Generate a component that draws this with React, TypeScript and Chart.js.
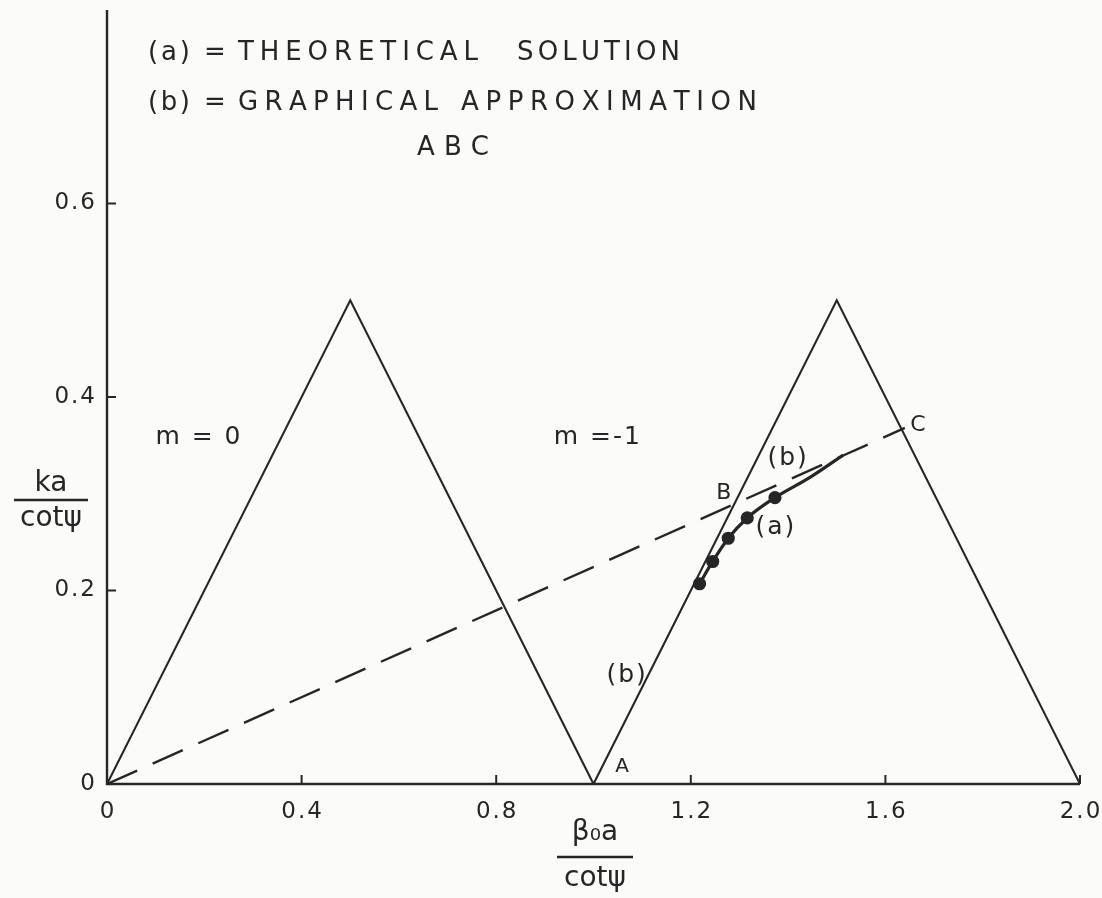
import { useEffect, useRef } from "react";
import { Chart, registerables } from "chart.js";

Chart.register(...registerables);

// Axis ticks
const xTicks = [0, 0.4, 0.8, 1.2, 1.6, 2.0];
const xTickLabels = ["0", "0.4", "0.8", "1.2", "1.6", "2.0"];
const yTicks = [0, 0.2, 0.4, 0.6];
const yTickLabels = ["0", "0.2", "0.4", "0.6"];

// Mode boundaries for m = 0 and m = -1
const boundaryX = [0, 0.5, 1.0, 1.5, 2.0];
const boundaryY = [0, 0.5, 0, 0.5, 0];

// Graphical approximation line through O, B and C
const approxX = [0, 1.64];
const approxY = [0, 0.368];

// Theoretical solution (a)
const theoryX = [1.218, 1.245, 1.277, 1.316, 1.373, 1.445, 1.513];
const theoryY = [0.207, 0.23, 0.254, 0.275, 0.296, 0.317, 0.34];
const theoryMarked = [true, true, true, true, true, false, false];

// In-plot annotations (data coordinates)
const noteText = ["m = 0", "m =-1", "(b)", "A", "B", "(a)", "(b)", "C"];
const noteX = [0.187, 1.007, 1.067, 1.059, 1.268, 1.373, 1.398, 1.667];
const noteY = [0.358, 0.358, 0.112, 0.0176, 0.3, 0.265, 0.336, 0.371];
const noteSize = [25, 25, 25, 20, 22, 25, 25, 22];

const INK = "#262626";
const PAPER = "#fbfbf9";
const FONT = '"DejaVu Sans", sans-serif';

const toPoints = (xs: number[], ys: number[]) => xs.map((x, i) => ({ x, y: ys[i] }));

// Draws text with its characters spread to span [x0, x1]
function spread(ctx: CanvasRenderingContext2D, text: string, x0: number, x1: number, y: number) {
  const chars = Array.from(text);
  const widths = chars.map((c) => ctx.measureText(c).width);
  const total = widths.reduce((a, b) => a + b, 0);
  const gap = chars.length > 1 ? (x1 - x0 - total) / (chars.length - 1) : 0;
  let x = x0;
  ctx.textAlign = "left";
  chars.forEach((c, i) => {
    ctx.fillText(c, x, y);
    x += widths[i] + gap;
  });
}

function spacedWidth(ctx: CanvasRenderingContext2D, text: string, gap: number) {
  const chars = Array.from(text);
  return chars.reduce((a, c) => a + ctx.measureText(c).width, 0) + gap * (chars.length - 1);
}

function spacedCenter(ctx: CanvasRenderingContext2D, text: string, cx: number, y: number, gap: number) {
  const chars = Array.from(text);
  let x = cx - spacedWidth(ctx, text, gap) / 2;
  ctx.textAlign = "left";
  chars.forEach((c) => {
    ctx.fillText(c, x, y);
    x += ctx.measureText(c).width + gap;
  });
}

const paperPlugin = {
  id: "paper",
  beforeDraw(chart: any) {
    const { ctx, width, height } = chart;
    ctx.save();
    ctx.fillStyle = PAPER;
    ctx.fillRect(0, 0, width, height);
    ctx.restore();
  },
};

const axesPlugin = {
  id: "handAxes",
  afterDatasetsDraw(chart: any) {
    const { ctx, chartArea } = chart;
    const xs = chart.scales.x;
    const ys = chart.scales.y;
    const x0 = xs.getPixelForValue(0);
    const y0 = ys.getPixelForValue(0);
    ctx.save();
    ctx.strokeStyle = INK;
    ctx.fillStyle = INK;
    ctx.lineWidth = 2.4;
    ctx.lineCap = "butt";
    ctx.beginPath();
    ctx.moveTo(x0, chartArea.top);
    ctx.lineTo(x0, y0);
    ctx.lineTo(xs.getPixelForValue(2.0), y0);
    ctx.stroke();

    // inward tick marks
    ctx.lineWidth = 2;
    xTicks.forEach((v) => {
      if (v === 0) return;
      const px = xs.getPixelForValue(v);
      ctx.beginPath();
      ctx.moveTo(px, y0);
      ctx.lineTo(px, y0 - 9);
      ctx.stroke();
    });
    yTicks.forEach((v) => {
      if (v === 0) return;
      const py = ys.getPixelForValue(v);
      ctx.beginPath();
      ctx.moveTo(x0, py);
      ctx.lineTo(x0 + 9, py);
      ctx.stroke();
    });

    // tick labels
    ctx.font = `23px ${FONT}`;
    ctx.textBaseline = "middle";
    xTicks.forEach((v, i) => {
      spacedCenter(ctx, xTickLabels[i], xs.getPixelForValue(v), y0 + 28, 2);
    });
    yTicks.forEach((v, i) => {
      const label = yTickLabels[i];
      const w = spacedWidth(ctx, label, 2);
      spacedCenter(ctx, label, x0 - 12 - w / 2, ys.getPixelForValue(v), 2);
    });

    // axis titles as fractions
    const xc = 595;
    ctx.font = `28px ${FONT}`;
    ctx.textAlign = "center";
    ctx.fillText("β₀a", xc, 833);
    ctx.lineWidth = 2.4;
    ctx.beginPath();
    ctx.moveTo(xc - 38, 857);
    ctx.lineTo(xc + 38, 857);
    ctx.stroke();
    ctx.fillText("cotψ", xc, 879);

    const yc = 51;
    ctx.fillText("ka", yc, 484);
    ctx.beginPath();
    ctx.moveTo(yc - 37, 500);
    ctx.lineTo(yc + 37, 500);
    ctx.stroke();
    ctx.fillText("cotψ", yc, 519);

    // annotations
    noteText.forEach((t, i) => {
      ctx.font = `${noteSize[i]}px ${FONT}`;
      spacedCenter(ctx, t, xs.getPixelForValue(noteX[i]), ys.getPixelForValue(noteY[i]), 2);
    });

    // key
    ctx.font = `26px ${FONT}`;
    ctx.textBaseline = "middle";
    spread(ctx, "(a)", 148, 190, 53);
    spread(ctx, "=", 204, 218, 53);
    spread(ctx, "THEORETICAL", 238, 478, 53);
    spread(ctx, "SOLUTION", 517, 680, 53);
    spread(ctx, "(b)", 148, 190, 103);
    spread(ctx, "=", 204, 218, 103);
    spread(ctx, "GRAPHICAL", 238, 438, 103);
    spread(ctx, "APPROXIMATION", 461, 757, 103);
    spread(ctx, "ABC", 417, 489, 148);
    ctx.restore();
  },
};

export default function App() {
  const canvasRef = useRef<HTMLCanvasElement | null>(null);

  useEffect(() => {
    const canvas = canvasRef.current;
    if (!canvas) return;
    const chart = new Chart(canvas, {
      type: "scatter",
      data: {
        datasets: [
          {
            label: "boundaries",
            data: toPoints(boundaryX, boundaryY),
            showLine: true,
            borderColor: INK,
            borderWidth: 2.1,
            pointRadius: 0,
            fill: false,
          },
          {
            label: "(b) graphical approximation",
            data: toPoints(approxX, approxY),
            showLine: true,
            borderColor: INK,
            borderWidth: 2.4,
            borderDash: [33, 17],
            pointRadius: 0,
            fill: false,
          },
          {
            label: "(a) theoretical solution",
            data: toPoints(theoryX, theoryY),
            showLine: true,
            borderColor: INK,
            borderWidth: 3.2,
            tension: 0.35,
            cubicInterpolationMode: "monotone",
            pointRadius: (c: any) => (theoryMarked[c.dataIndex] ? 5 : 0),
            pointBackgroundColor: INK,
            pointBorderColor: INK,
            fill: false,
          },
        ],
      },
      options: {
        responsive: false,
        animation: false,
        events: [],
        layout: { padding: { left: 107, right: 22, top: 10, bottom: 114 } },
        plugins: {
          legend: { display: false },
          tooltip: { enabled: false },
        },
        scales: {
          x: { type: "linear", min: 0, max: 2.0, display: false },
          y: { type: "linear", min: 0, max: 0.8, display: false },
        },
      } as any,
      plugins: [paperPlugin, axesPlugin],
    });
    return () => chart.destroy();
  }, []);

  return (
    <div style={{ position: "fixed", left: 0, top: 0, width: 1102, height: 898, background: PAPER }}>
      <canvas ref={canvasRef} width={1102} height={898} style={{ display: "block" }} />
    </div>
  );
}
